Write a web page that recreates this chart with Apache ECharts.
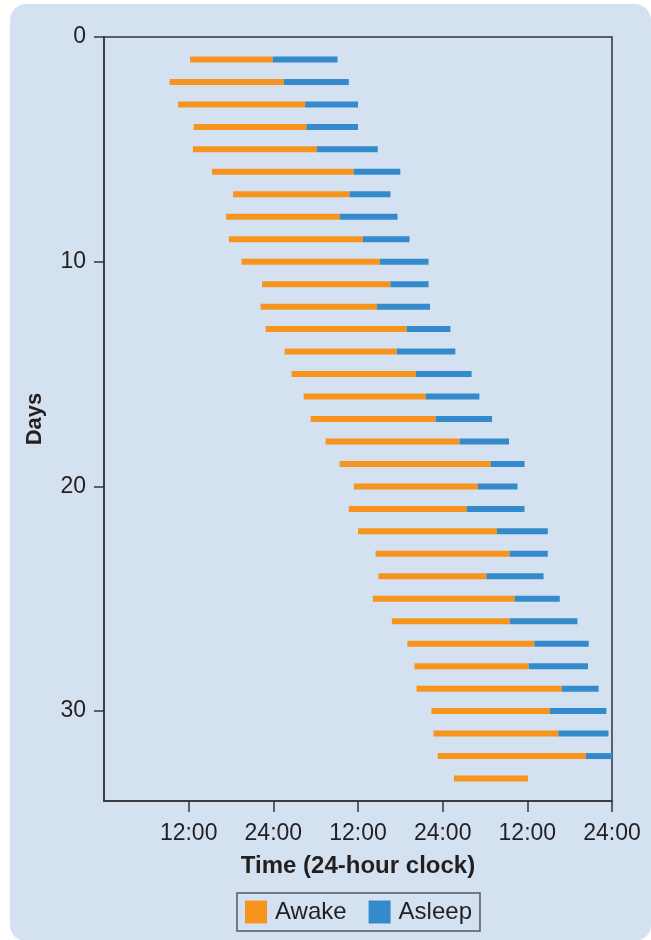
<!DOCTYPE html>
<html>
<head>
<meta charset="utf-8">
<script src="https://cdn.jsdelivr.net/npm/echarts@6/dist/echarts.min.js"></script>
<style>
  html, body { margin: 0; padding: 0; background: #ffffff; }
  #panel { position: absolute; left: 10px; top: 4px; width: 641px; height: 937px; background: #d4e1f1; border-radius: 16px; }
  #chart { position: absolute; left: 0; top: 0; width: 651px; height: 940px; }
</style>
</head>
<body>
<div id="panel"></div>
<div id="chart"></div>
<script>
// Day number for each row
const days = [1,2,3,4,5,6,7,8,9,10,11,12,13,14,15,16,17,18,19,20,21,22,23,24,25,26,27,28,29,30,31,32,33];
// Hour (from the left edge of the plot) at which the awake period starts
const wakeStart = [12.2, 9.3, 10.5, 12.7, 12.6, 15.3, 18.3, 17.3, 17.7, 19.5, 22.4, 22.2, 22.9, 25.6, 26.6, 28.3, 29.3, 31.4, 33.4, 35.4, 34.7, 36.0, 38.5, 38.9, 38.1, 40.8, 43.0, 44.0, 44.3, 46.4, 46.7, 47.3, 49.6];
// Hour at which sleep starts (end of awake period)
const sleepStart = [23.9, 25.5, 28.5, 28.7, 30.2, 35.4, 34.8, 33.4, 36.7, 39.1, 40.6, 38.7, 42.9, 41.5, 44.2, 45.6, 47.0, 50.4, 54.8, 53.0, 51.4, 55.7, 57.5, 54.2, 58.2, 57.5, 61.0, 60.2, 64.9, 63.2, 64.4, 68.3, 60.1];
// Hour at which sleep ends (null = no sleep recorded)
const sleepEnd = [33.1, 34.7, 36.0, 36.0, 38.8, 42.0, 40.6, 41.6, 43.3, 46.0, 46.0, 46.2, 49.1, 49.8, 52.1, 53.2, 55.0, 57.4, 59.6, 58.6, 59.6, 62.9, 62.9, 62.3, 64.6, 67.1, 68.7, 68.6, 70.1, 71.2, 71.5, 72.0, null];
// Axis tick values / labels
const xTicks = [12, 24, 36, 48, 60, 72];
const xTickLabels = ['12:00', '24:00', '12:00', '24:00', '12:00', '24:00'];
const yTicks = [0, 10, 20, 30];

const awakeColor = '#f7941d';
const asleepColor = '#348bcb';
const textColor = '#231f20';
const font = '"Liberation Sans", Arial, Helvetica, sans-serif';

const awakeData = days.map((d, i) => [d, wakeStart[i], sleepStart[i]]);
const asleepData = days.map((d, i) => sleepEnd[i] == null ? null : [d, sleepStart[i], sleepEnd[i]]).filter(x => x);

function makeRender(color) {
  return function (params, api) {
    const s = api.coord([api.value(1), api.value(0)]);
    const e = api.coord([api.value(2), api.value(0)]);
    const h = 6;
    const rect = echarts.graphic.clipRectByRect({
      x: s[0], y: s[1] - h / 2, width: e[0] - s[0], height: h
    }, {
      x: params.coordSys.x, y: params.coordSys.y,
      width: params.coordSys.width, height: params.coordSys.height
    });
    return rect && { type: 'rect', shape: rect, style: { fill: color } };
  };
}

const chart = echarts.init(document.getElementById('chart'), null, { renderer: 'canvas' });
chart.setOption({
  animation: false,
  backgroundColor: 'transparent',
  textStyle: { fontFamily: font, color: textColor },
  grid: {
    left: 104, top: 37, width: 508, height: 764,
    show: true, borderColor: '#333', borderWidth: 1.5, backgroundColor: 'transparent'
  },
  legend: {
    left: 237, top: 893,
    padding: [7, 8, 7, 8],
    itemWidth: 22, itemHeight: 23, itemGap: 22,
    borderColor: '#555', borderWidth: 1.5,
    icon: 'rect',
    textStyle: { fontSize: 24, color: textColor, fontFamily: font, padding: [0, 0, 0, 3] },
    data: ['Awake', 'Asleep']
  },
  xAxis: {
    type: 'value', min: 0, max: 72, interval: 12, position: 'bottom',
    name: 'Time (24-hour clock)', nameLocation: 'middle', nameGap: 53,
    nameTextStyle: { fontSize: 24, fontWeight: 'bold', color: textColor, fontFamily: font },
    axisLine: { show: true, onZero: false, lineStyle: { color: '#333', width: 1.5 } },
    axisTick: { show: true, length: 11, lineStyle: { color: '#333', width: 1.5 }, customValues: xTicks },
    axisLabel: {
      fontSize: 23, color: textColor, margin: 21, fontFamily: font,
      customValues: xTicks,
      formatter: v => xTickLabels[xTicks.indexOf(v)] || ''
    },
    splitLine: { show: false }
  },
  yAxis: {
    type: 'value', min: 0, max: 34, interval: 10, inverse: true, position: 'left',
    name: 'Days', nameLocation: 'middle', nameGap: 58, nameRotate: 90,
    nameTextStyle: { fontSize: 22, fontWeight: 'bold', color: textColor, fontFamily: font },
    axisLine: { show: true, onZero: false, lineStyle: { color: '#333', width: 1.5 } },
    axisTick: { show: true, length: 10, lineStyle: { color: '#333', width: 1.5 }, customValues: yTicks },
    axisLabel: { fontSize: 23, color: textColor, margin: 18, fontFamily: font, customValues: yTicks },
    splitLine: { show: false }
  },
  series: [
    {
      name: 'Awake', type: 'custom', renderItem: makeRender(awakeColor),
      itemStyle: { color: awakeColor },
      encode: { x: [1, 2], y: 0 },
      data: awakeData
    },
    {
      name: 'Asleep', type: 'custom', renderItem: makeRender(asleepColor),
      itemStyle: { color: asleepColor },
      encode: { x: [1, 2], y: 0 },
      data: asleepData
    }
  ]
});
</script>
</body>
</html>
